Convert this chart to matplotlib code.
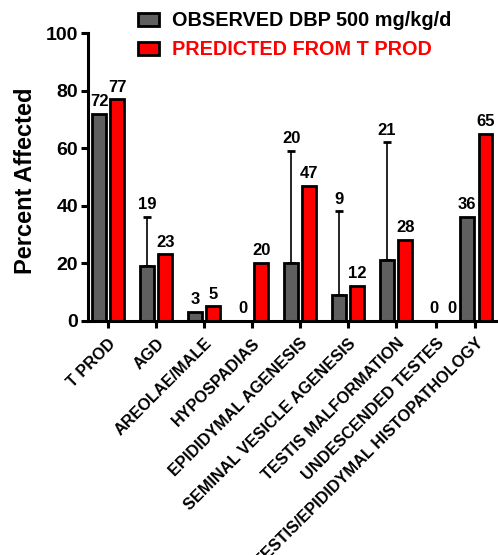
import numpy as np
import matplotlib
matplotlib.use("Agg")
import matplotlib.pyplot as plt
from matplotlib.patches import Patch

plt.rcParams['font.family'] = ['Liberation Sans', 'DejaVu Sans']
plt.rcParams['font.weight'] = 'bold'

# ---- data ----
categories = [
    "T PROD", "AGD", "AREOLAE/MALE", "HYPOSPADIAS", "EPIDIDYMAL AGENESIS",
    "SEMINAL VESICLE AGENESIS", "TESTIS MALFORMATION", "UNDESCENDED TESTES",
    "TESTIS/EPIDIDYMAL HISTOPATHOLOGY",
]
observed = [72, 19, 3, 0, 20, 9, 21, 0, 36]
predicted = [77, 23, 5, 20, 47, 12, 28, 0, 65]
# upper end of the observed error bars (nan = no bar)
observed_upper = [np.nan, 36, np.nan, np.nan, 59, 38, 62, np.nan, np.nan]

series_labels = ["OBSERVED DBP 500 mg/kg/d", "PREDICTED FROM T PROD"]
y_ticks = [0, 20, 40, 60, 80, 100]

# ---- layout ----
group_pos = np.array([0, 1, 2, 3, 4, 5, 6, 6.97, 7.67])
tick_pos = np.array([0, 1, 2, 3, 4, 5, 6, 6.83, 7.65])
offset = 0.19
bar_w = 0.29
gray = "#5f5f5f"
red = "#ff0000"

fig = plt.figure(figsize=(4.98, 5.55), dpi=100)
W, H = 498, 555
ax = fig.add_axes([88 / W, 1 - 320.5 / H, 1 - 88 / W, (320.5 - 33.3) / H])

obs = np.array(observed, float)
pred = np.array(predicted, float)
upper = np.array(observed_upper, float)

x_obs = group_pos - offset
x_pred = group_pos + offset

# error bars (upper whisker only), drawn behind the bars
has_err = ~np.isnan(upper)
ax.errorbar(x_obs[has_err], obs[has_err],
            yerr=[np.zeros(has_err.sum()), upper[has_err] - obs[has_err]],
            fmt='none', ecolor='black', elinewidth=1.2, capsize=3, capthick=2,
            zorder=1, clip_on=False)

ax.bar(x_obs, obs, width=bar_w, color=gray, edgecolor='black', linewidth=2, zorder=2)
ax.bar(x_pred, pred, width=bar_w, color=red, edgecolor='black', linewidth=2, zorder=2)

# value labels
for x, v, u in zip(x_obs, obs, upper):
    top = u if not np.isnan(u) else v
    ax.annotate(f"{v:.0f}", (x, top), xytext=(0, 5.5), textcoords='offset points',
                ha='center', va='baseline', fontsize=12, fontweight='bold',
                annotation_clip=False)
for x, v in zip(x_pred, pred):
    ax.annotate(f"{v:.0f}", (x, v), xytext=(0, 5.5), textcoords='offset points',
                ha='center', va='baseline', fontsize=12, fontweight='bold',
                annotation_clip=False)

# axes styling
ax.set_ylim(0, 100)
ax.set_xlim(-0.42, 8.12)
ax.set_yticks(y_ticks)
ax.set_yticklabels([str(t) for t in y_ticks], fontsize=14, fontweight='bold')
ax.set_xticks(tick_pos)
ax.set_xticklabels(categories, rotation=45, ha='right', rotation_mode='anchor',
                   fontsize=11.7, fontweight='bold')
for side in ('top', 'right'):
    ax.spines[side].set_visible(False)
for side in ('left', 'bottom'):
    ax.spines[side].set_linewidth(2.2)
ax.tick_params(axis='both', direction='out', length=5, width=2.2, color='black')
ax.tick_params(axis='y', pad=2)
ax.tick_params(axis='x', pad=6)

ax.set_ylabel("Percent Affected", fontsize=17, fontweight='bold')
ax.yaxis.set_label_coords(-0.125, 0.485)

# legend
handles = [Patch(facecolor=gray, edgecolor='black', linewidth=2),
           Patch(facecolor=red, edgecolor='black', linewidth=2)]
leg = fig.legend(handles, series_labels, loc='upper left',
                 bbox_to_anchor=(138 / W, 1 - 11.5 / H), frameon=False,
                 prop={'size': 14.3, 'weight': 'bold'},
                 handlelength=1.05, handleheight=0.65, handletextpad=0.68,
                 labelspacing=0.5, borderpad=0, borderaxespad=0)
leg.get_texts()[0].set_color('black')
leg.get_texts()[1].set_color(red)

fig.savefig("out.png", dpi=100)
